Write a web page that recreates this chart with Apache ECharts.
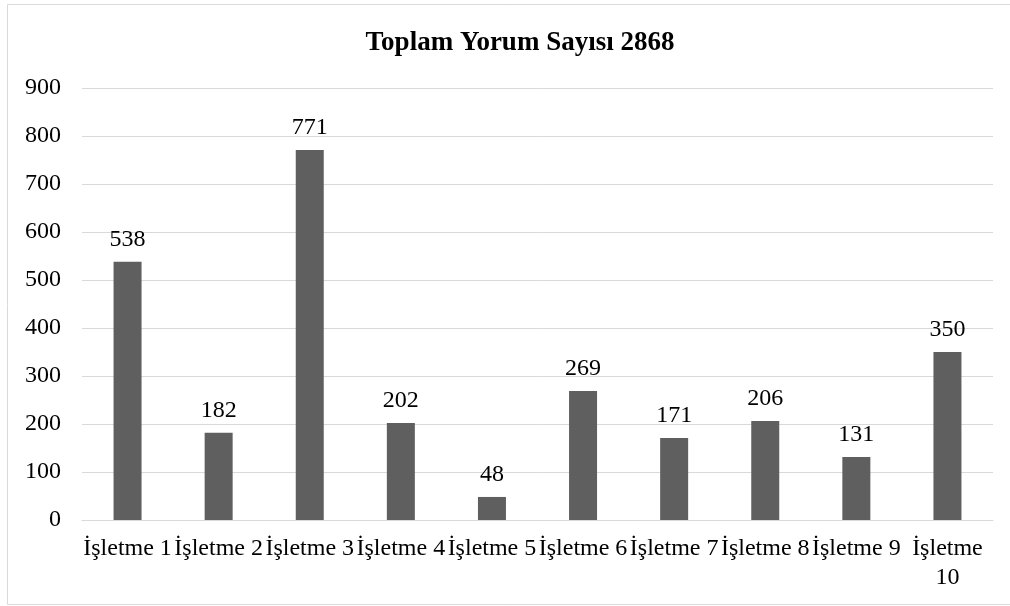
<!DOCTYPE html>
<html><head><meta charset="utf-8">
<script src="https://cdn.jsdelivr.net/npm/echarts@6/dist/echarts.min.js"></script>
<style>html,body{margin:0;padding:0;background:#fff}#c{width:1010px;height:606px}</style>
</head><body><div id="c"></div>
<script>
const titleText = 'Toplam Yorum Sayısı 2868';
const categories = ['İşletme 1','İşletme 2','İşletme 3','İşletme 4','İşletme 5','İşletme 6','İşletme 7','İşletme 8','İşletme 9','İşletme 10'];
const values = [538, 182, 771, 202, 48, 269, 171, 206, 131, 350];
const yMin = 0, yMax = 900, yStep = 100;
const font = '"Liberation Serif","Times New Roman",serif';
const chart = echarts.init(document.getElementById('c'));
chart.setOption({
  animation: false,
  backgroundColor: '#fff',
  graphic: [{type:'rect', shape:{x:7.5,y:4.5,width:1006,height:600}, style:{fill:'none', stroke:'#d9d9d9', lineWidth:1}}],
  title: {text: titleText, left: 515, textAlign: 'center', top: 25, textStyle:{fontFamily: font, fontWeight:'bold', fontSize:27, color:'#000'}},
  grid: {left: 82, right: 17, top: 88, bottom: 86},
  xAxis: {type:'category', data: categories,
    axisLine:{lineStyle:{color:'#d9d9d9', width:1}}, axisTick:{show:false},
    axisLabel:{fontFamily: font, fontSize:24, color:'#000', margin:14, interval:0, lineHeight:29,
      formatter: v => v.length > 9 ? v.replace(' ', '\n') : v}},
  yAxis: {type:'value', min: yMin, max: yMax, interval: yStep,
    axisLine:{show:false}, axisTick:{show:false},
    splitLine:{lineStyle:{color:'#d9d9d9', width:1}},
    axisLabel:{fontFamily: font, fontSize:24, color:'#000', margin:21}},
  series: [{type:'bar', data: values, barWidth: 28, itemStyle:{color:'#5f5f5f'},
    label:{show:true, position:'top', distance:10, fontFamily: font, fontSize:24, color:'#000'}}]
});
</script></body></html>
